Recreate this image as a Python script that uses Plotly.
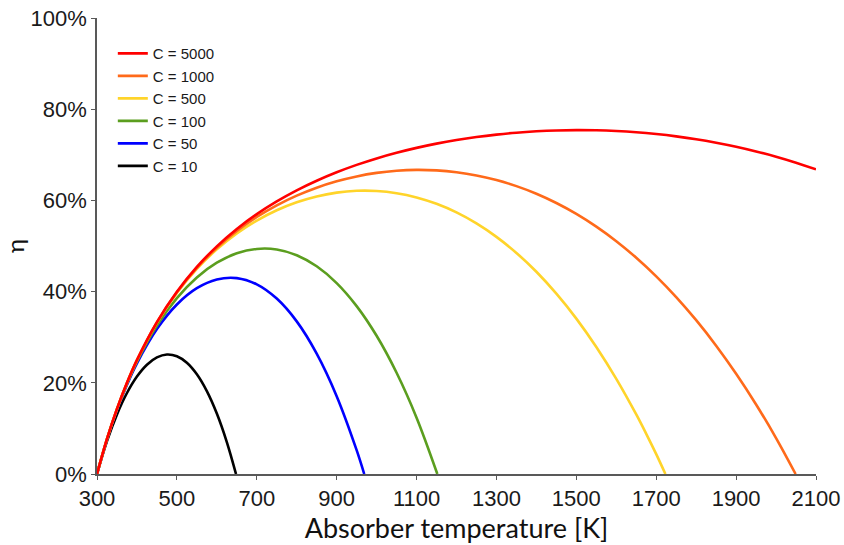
import plotly.graph_objects as go

# Absorber temperature [K] and efficiency values
t_c10 = [300, 325, 350, 375, 400, 425, 450, 475, 500, 525, 550, 575, 600, 625, 648]
eta_c10 = [0, 0.0721, 0.1307, 0.1776, 0.2137, 0.2397, 0.2558, 0.2621, 0.2583, 0.2440, 0.2187, 0.1818, 0.1326, 0.0701, 0]

t_c50 = [300, 325, 350, 375, 400, 450, 500, 550, 600, 650, 700, 750, 800, 850, 900, 950, 969]
eta_c50 = [0, 0.0760, 0.1404, 0.1955, 0.2427, 0.3178, 0.3717, 0.4074, 0.4265, 0.4295, 0.4159, 0.3847, 0.3347, 0.2640, 0.1707, 0.0523, 0]

t_c100 = [300, 325, 350, 375, 400, 450, 500, 550, 600, 650, 700, 750, 800, 850, 900, 950, 1000, 1050, 1100, 1152]
eta_c100 = [0, 0.0764, 0.1416, 0.1978, 0.2464, 0.3256, 0.3858, 0.4310, 0.4633, 0.4840, 0.4936, 0.4924, 0.4798, 0.4555, 0.4187, 0.3682, 0.3031, 0.2220, 0.1235, 0]

t_c500 = [300, 325, 350, 375, 400, 450, 500, 550, 600, 650, 700, 750, 800, 850, 900, 950, 1000,
          1050, 1100, 1150, 1200, 1250, 1300, 1350, 1400, 1450, 1500, 1550, 1600, 1650, 1675, 1700, 1723]
eta_c500 = [0, 0.0768, 0.1426, 0.1996, 0.2493, 0.3318, 0.3972, 0.4498, 0.4927, 0.5276, 0.5559, 0.5785, 0.5960,
            0.6088, 0.6171, 0.6210, 0.6206, 0.6158, 0.6065, 0.5925, 0.5737, 0.5496, 0.5201, 0.4848, 0.4435,
            0.3955, 0.3408, 0.2786, 0.2087, 0.1306, 0.0881, 0.0436, 0]

t_c1000 = [300, 325, 350, 375, 400, 450, 500, 550, 600, 650, 700, 750, 800, 850, 900, 950, 1000,
           1050, 1100, 1150, 1200, 1250, 1300, 1350, 1400, 1450, 1500, 1550, 1600, 1650, 1700, 1750,
           1800, 1850, 1900, 1950, 2000, 2049]
eta_c1000 = [0, 0.0769, 0.1427, 0.1998, 0.2496, 0.3326, 0.3986, 0.4522, 0.4963, 0.5330, 0.5637, 0.5892, 0.6105,
             0.6279, 0.6419, 0.6526, 0.6603, 0.6651, 0.6669, 0.6658, 0.6618, 0.6548, 0.6447, 0.6313, 0.6146,
             0.5943, 0.5704, 0.5425, 0.5106, 0.4743, 0.4335, 0.3880, 0.3373, 0.2814, 0.2198, 0.1525, 0.0789, 0]

t_c5000 = [300, 325, 350, 375, 400, 450, 500, 550, 600, 650, 700, 750, 800, 850, 900, 950, 1000,
           1050, 1100, 1150, 1200, 1250, 1300, 1350, 1400, 1450, 1500, 1550, 1600, 1650, 1700, 1750,
           1800, 1850, 1900, 1950, 2000, 2050, 2100]
eta_c5000 = [0, 0.0769, 0.1428, 0.2000, 0.2499, 0.3332, 0.3997, 0.4541, 0.4993, 0.5374, 0.5699, 0.5978, 0.6221,
             0.6432, 0.6617, 0.6779, 0.6921, 0.7044, 0.7152, 0.7245, 0.7324, 0.7390, 0.7443, 0.7485, 0.7515,
             0.7534, 0.7541, 0.7537, 0.7521, 0.7494, 0.7455, 0.7404, 0.7341, 0.7265, 0.7177, 0.7074, 0.6958,
             0.6827, 0.6681]

labels = ["C = 10", "C = 50", "C = 100", "C = 500", "C = 1000", "C = 5000"]
colors = ["#000000", "#0000FF", "#5B9E1F", "#FFD42A", "#FF6A1A", "#FF0000"]
series = [(t_c10, eta_c10), (t_c50, eta_c50), (t_c100, eta_c100),
          (t_c500, eta_c500), (t_c1000, eta_c1000), (t_c5000, eta_c5000)]

x_ticks = [300, 500, 700, 900, 1100, 1300, 1500, 1700, 1900, 2100]
y_ticks = [0, 0.2, 0.4, 0.6, 0.8, 1.0]

fig = go.Figure()
for (t, e), lab, col in zip(series, labels, colors):
    fig.add_trace(go.Scatter(x=t, y=e, mode="lines", name=lab, cliponaxis=False,
                             line=dict(color=col, width=2.6, shape="spline", smoothing=1.0)))

axis_col = "#595959"
fig.update_layout(
    width=844, height=545,
    margin=dict(l=97, r=28, t=18, b=71),
    plot_bgcolor="white", paper_bgcolor="white",
    font=dict(family="Liberation Sans, Arial, sans-serif", color="#1a1a1a"),
    showlegend=True,
    legend=dict(x=0.022, y=0.958, xanchor="left", yanchor="top",
                traceorder="reversed", font=dict(size=15, color="#1a1a1a"),
                bgcolor="rgba(0,0,0,0)", itemwidth=30, tracegroupgap=0),
    xaxis=dict(range=[300, 2100], tickvals=x_ticks, ticktext=[str(v) for v in x_ticks],
               automargin=False, ticklabeloverflow="allow",
               showgrid=False, zeroline=False, showline=True, linecolor=axis_col, linewidth=1.5,
               ticks="outside", ticklen=4, tickcolor=axis_col, tickwidth=1.2,
               tickfont=dict(size=22),
               title=dict(text="Absorber temperature [K]", font=dict(family="Lato, sans-serif", size=27, color="#111"), standoff=4)),
    yaxis=dict(range=[0, 1], tickvals=y_ticks, tickformat=".0%",
               automargin=False, ticklabeloverflow="allow",
               showgrid=False, zeroline=False, showline=True, linecolor=axis_col, linewidth=1.5,
               ticks="outside", ticklen=4, tickcolor=axis_col, tickwidth=1.2,
               tickfont=dict(size=22),
               title=dict(text="η", font=dict(family="Lato, sans-serif", size=24, color="#111"), standoff=12)),
)

# remove the browser's default 8px body margin so the figure fills the window exactly
fig.write_html("out.html", config={"displayModeBar": False},
               post_script="document.body.style.margin='0';document.body.style.overflow='hidden';")
